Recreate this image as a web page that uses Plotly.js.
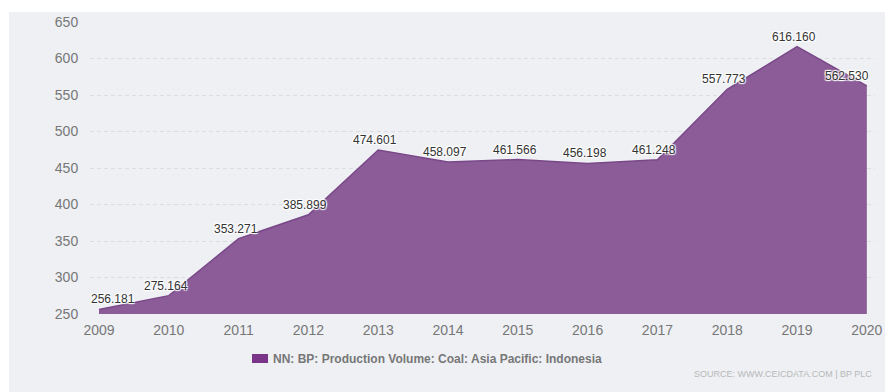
<!DOCTYPE html>
<html>
<head>
<meta charset="utf-8">
<script src="https://cdn.plot.ly/plotly-3.0.1.min.js"></script>
<style>
  html, body { margin: 0; padding: 0; background: #ffffff; width: 885px; height: 392px; overflow: hidden; }
  #chart { position: absolute; left: 9px; top: 12px; width: 876px; height: 380px; }
</style>
</head>
<body>
<div id="chart"></div>
<script>
// ---- data ----
const years = [2009, 2010, 2011, 2012, 2013, 2014, 2015, 2016, 2017, 2018, 2019, 2020];
const production = [256.181, 275.164, 353.271, 385.899, 474.601, 458.097, 461.566, 456.198, 461.248, 557.773, 616.160, 562.530];
const valueLabels = ["256.181", "275.164", "353.271", "385.899", "474.601", "458.097", "461.566", "456.198", "461.248", "557.773", "616.160", "562.530"];
const yTicks = [250, 300, 350, 400, 450, 500, 550, 600, 650];
const seriesName = "NN: BP: Production Volume: Coal: Asia Pacific: Indonesia";
const sourceText = "SOURCE: WWW.CEICDATA.COM | BP PLC";

const trace = {
  x: years,
  y: production,
  type: 'scatter',
  mode: 'lines',
  fill: 'tozeroy',
  fillcolor: 'rgb(139,92,151)',
  line: { color: 'rgb(122,72,137)', width: 1.5 },
  name: seriesName,
  hoverinfo: 'x+y',
  showlegend: false
};

const halo = '1px 1px 1px #fff, -1px -1px 1px #fff, 1px -1px 1px #fff, -1px 1px 1px #fff';
const annotations = years.map((yr, i) => ({
  x: yr, y: production[i], xref: 'x', yref: 'y',
  text: valueLabels[i], showarrow: false,
  xanchor: 'center', yanchor: 'middle',
  xshift: i === 0 ? 14 : (i === years.length - 1 ? -20 : -3),
  yshift: 10,
  font: { family: 'Liberation Sans, Arial, sans-serif', size: 12, color: '#333333', shadow: halo }
}));

annotations.push({
  xref: 'paper', yref: 'paper', x: 0.2306, y: -0.1524,
  xanchor: 'left', yanchor: 'middle', showarrow: false,
  text: '<b>' + seriesName + '</b>',
  font: { family: 'Liberation Sans, Arial, sans-serif', size: 12, color: '#777777' }
});
annotations.push({
  xref: 'paper', yref: 'paper', x: 0.9987, y: -0.2055,
  xanchor: 'right', yanchor: 'middle', showarrow: false,
  text: sourceText,
  font: { family: 'Liberation Sans, Arial, sans-serif', size: 9, color: '#b8b8b8' }
});

const layout = {
  width: 876, height: 380,
  margin: { l: 81, r: 10, t: 10, b: 78, pad: 0 },
  paper_bgcolor: 'rgb(238,240,244)',
  plot_bgcolor: 'rgba(0,0,0,0)',
  showlegend: false,
  xaxis: {
    range: [2008.871, 2020.117],
    tickmode: 'array', tickvals: years, ticktext: years.map(String),
    showgrid: false, zeroline: false, showline: false,
    ticks: 'outside', ticklen: 3, tickcolor: 'rgba(0,0,0,0)',
    tickfont: { family: 'Liberation Sans, Arial, sans-serif', size: 14, color: '#777777' }
  },
  yaxis: {
    range: [250, 650],
    tickmode: 'array', tickvals: yTicks, ticktext: yTicks.map(String),
    showgrid: true, gridcolor: '#dcdde1', gridwidth: 1, griddash: '4px,3px',
    zeroline: false, showline: false,
    ticks: 'outside', ticklen: 8, tickcolor: 'rgba(0,0,0,0)',
    tickfont: { family: 'Liberation Sans, Arial, sans-serif', size: 14, color: '#777777' }
  },
  shapes: [{
    type: 'rect', xref: 'paper', yref: 'paper',
    x0: 0.2064, x1: 0.2268, y0: -0.1678, y1: -0.137,
    fillcolor: 'rgb(122,53,136)', line: { width: 0 }
  }],
  annotations: annotations
};

Plotly.newPlot('chart', [trace], layout, { displayModeBar: false, staticPlot: true });
</script>
</body>
</html>
